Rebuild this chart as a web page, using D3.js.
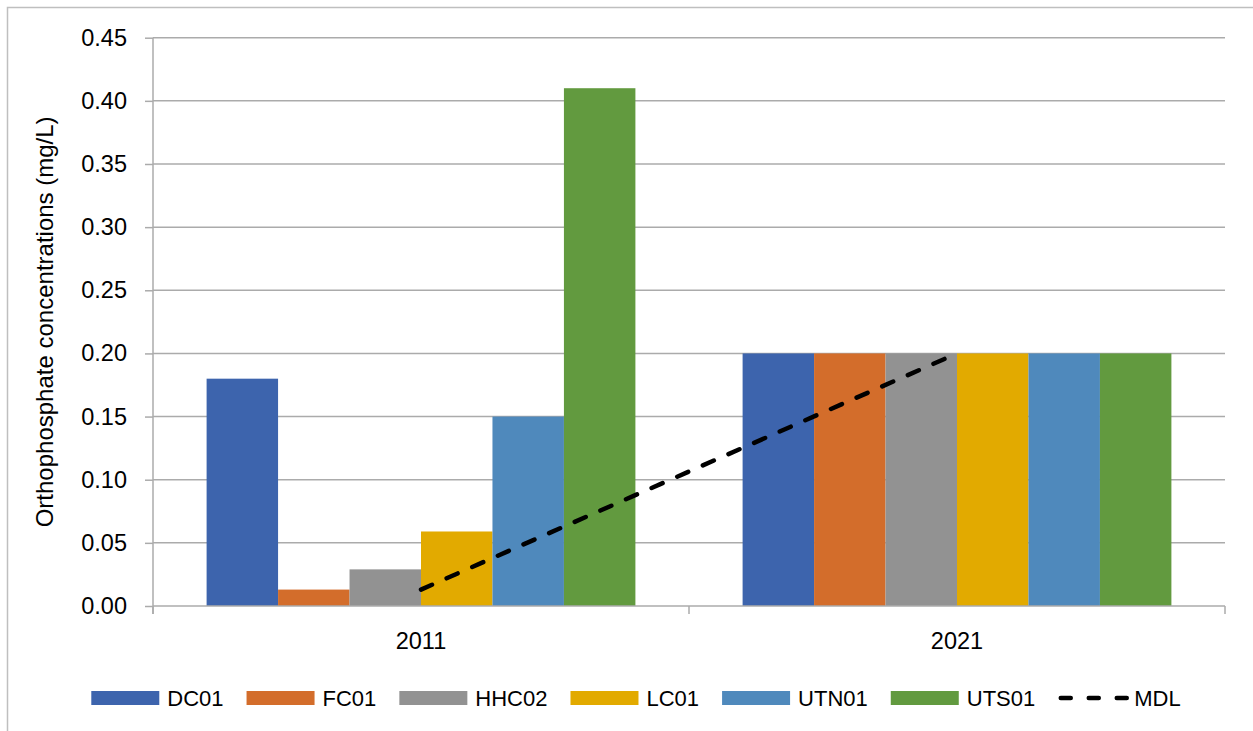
<!DOCTYPE html>
<html>
<head>
<meta charset="utf-8">
<script src="https://cdn.jsdelivr.net/npm/d3@7"></script>
<style>
  body { margin: 0; background: #fff; }
  svg text { font-family: "Liberation Sans", Arial, sans-serif; fill: #000; }
</style>
</head>
<body>
<div class="container"></div>
<script>
const w = 1253, h = 731;
const pad = {top: 37.7, right: 28, bottom: 125, left: 153};

// data
const years = ['2011', '2021'];
const sites = ['DC01', 'FC01', 'HHC02', 'LC01', 'UTN01', 'UTS01'];
const values2011 = [0.18, 0.013, 0.029, 0.059, 0.15, 0.41];
const values2021 = [0.20, 0.20, 0.20, 0.20, 0.20, 0.20];
const mdl = [0.013, 0.20];
const yTicks = [0, 0.05, 0.10, 0.15, 0.20, 0.25, 0.30, 0.35, 0.40, 0.45];
const siteColors = ['#3d64ad', '#d36d2b', '#929292', '#e2aa00', '#4f89bc', '#629a3f'];

const seriesByYear = [values2011, values2021];

const svg = d3.select('.container')
              .append('svg')
              .attr('width', w)
              .attr('height', h);

// outer frame (clipped by the picture on the right and bottom)
svg.append('rect')
   .attr('x', 7.5).attr('y', 7.5)
   .attr('width', w + 10).attr('height', h + 10)
   .style('fill', 'none')
   .style('stroke', '#bfbfbf')
   .style('stroke-width', 1.5);

const x0 = d3.scaleBand()
             .domain(years)
             .range([pad.left, w - pad.right])
             .padding(0);
const x1 = d3.scaleBand()
             .domain(sites)
             .range([0, x0.bandwidth()])
             .paddingInner(0)
             .paddingOuter(0.75);
const y = d3.scaleLinear()
            .domain([0, 0.45])
            .range([h - pad.bottom, pad.top]);

// gridlines
svg.append('g')
   .selectAll('line')
   .data(yTicks.slice(1))
   .enter()
   .append('line')
   .attr('x1', pad.left).attr('x2', w - pad.right)
   .attr('y1', d => y(d)).attr('y2', d => y(d))
   .style('stroke', '#ababab')
   .style('stroke-width', 1.5);

// bars
const groups = svg.append('g')
   .selectAll('g')
   .data(years)
   .enter()
   .append('g')
   .attr('transform', d => `translate(${x0(d)},0)`);

groups.selectAll('rect')
   .data((d, i) => sites.map((s, j) => ({site: s, value: seriesByYear[i][j], color: siteColors[j]})))
   .enter()
   .append('rect')
   .attr('x', d => x1(d.site))
   .attr('y', d => y(d.value))
   .attr('width', x1.bandwidth())
   .attr('height', d => y(0) - y(d.value))
   .style('fill', d => d.color);

// y axis
const yAxis = d3.axisLeft(y)
                .tickValues(yTicks)
                .tickFormat(d3.format('.2f'))
                .tickSize(8)
                .tickPadding(18);
const yg = svg.append('g')
   .attr('transform', `translate(${pad.left},0)`)
   .call(yAxis);
yg.select('.domain').style('stroke', '#ababab').style('stroke-width', 1.5)
  .attr('d', `M0,${y(0.45)}V${y(0) + 8}`);
yg.selectAll('.tick line').attr('x1', -8).attr('x2', 0)
  .style('stroke', '#ababab').style('stroke-width', 1.5);
yg.selectAll('.tick text').attr('x', -26)
  .style('font-size', '23.5px').style('font-family', '"Liberation Sans", Arial, sans-serif');

// x axis
const xg = svg.append('g');
xg.append('line')
  .attr('x1', pad.left).attr('x2', w - pad.right)
  .attr('y1', y(0)).attr('y2', y(0))
  .style('stroke', '#ababab').style('stroke-width', 1.5);
const bounds = years.map(d => x0(d)).concat([x0.range()[1]]);
xg.selectAll('line.tk')
  .data(bounds)
  .enter()
  .append('line')
  .attr('class', 'tk')
  .attr('x1', d => d).attr('x2', d => d)
  .attr('y1', y(0)).attr('y2', y(0) + 8)
  .style('stroke', '#ababab').style('stroke-width', 1.5);
xg.selectAll('text')
  .data(years)
  .enter()
  .append('text')
  .attr('x', d => x0(d) + x0.bandwidth() / 2)
  .attr('y', 649)
  .attr('text-anchor', 'middle')
  .style('font-size', '23.5px')
  .text(d => d);

// MDL line
const line = d3.line()
               .x((d, i) => x0(years[i]) + x0.bandwidth() / 2)
               .y(d => y(d));
svg.append('path')
   .datum(mdl)
   .attr('d', line)
   .style('fill', 'none')
   .style('stroke', '#000')
   .style('stroke-width', 4.5)
   .style('stroke-linecap', 'round')
   .style('stroke-dasharray', '12,16');

// y title
svg.append('text')
   .text('Orthophosphate concentrations (mg/L)')
   .attr('text-anchor', 'middle')
   .style('font-size', '24px')
   .attr('transform', `translate(53, ${(y(0) + y(0.45)) / 2}) rotate(-90)`);

// legend
const legendItems = sites.map((s, i) => ({name: s, color: siteColors[i], type: 'rect'}))
                         .concat([{name: 'MDL', color: '#000', type: 'line'}]);
const legend = svg.append('g');
const sw = 68, textGap = 8, itemGap = 23, ly = 698;
let cx = 0;
legendItems.forEach(d => {
  const g = legend.append('g').attr('transform', `translate(${cx},0)`);
  if (d.type === 'rect') {
    g.append('rect')
     .attr('x', 0).attr('y', ly - 7)
     .attr('width', sw).attr('height', 14)
     .style('fill', d.color);
  } else {
    g.append('line')
     .attr('x1', 2.5).attr('x2', sw + 2)
     .attr('y1', ly).attr('y2', ly)
     .style('stroke', '#000')
     .style('stroke-width', 4.5)
     .style('stroke-linecap', 'round')
     .style('stroke-dasharray', '10,18');
  }
  const t = g.append('text')
             .attr('x', sw + textGap)
             .attr('y', ly + 8)
             .style('font-size', '22px')
             .text(d.name);
  cx += sw + textGap + t.node().getComputedTextLength() + itemGap;
});
const legendWidth = cx - itemGap;
legend.attr('transform', `translate(${636 - legendWidth / 2},0)`);
</script>
</body>
</html>
